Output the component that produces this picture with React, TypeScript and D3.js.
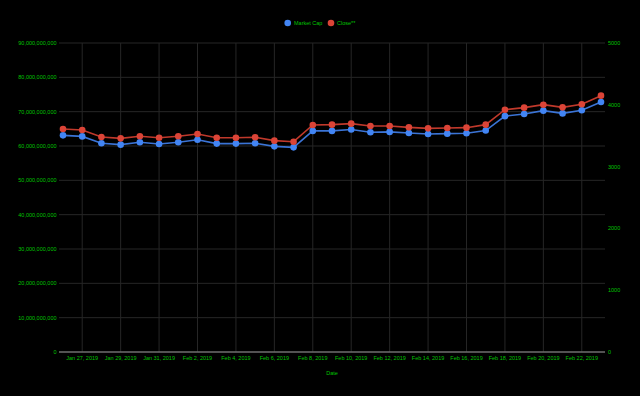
import * as d3 from "d3";

const dates = [
  "2019-01-26", "2019-01-27", "2019-01-28", "2019-01-29", "2019-01-30", "2019-01-31",
  "2019-02-01", "2019-02-02", "2019-02-03", "2019-02-04", "2019-02-05", "2019-02-06",
  "2019-02-07", "2019-02-08", "2019-02-09", "2019-02-10", "2019-02-11", "2019-02-12",
  "2019-02-13", "2019-02-14", "2019-02-15", "2019-02-16", "2019-02-17", "2019-02-18",
  "2019-02-19", "2019-02-20", "2019-02-21", "2019-02-22", "2019-02-23",
];

// market cap in billions
const marketCap = [
  63.1, 62.8, 60.8, 60.4, 61.1, 60.6, 61.1, 61.8, 60.7, 60.7, 60.8, 59.9, 59.6, 64.4,
  64.4, 64.8, 64.0, 64.1, 63.8, 63.5, 63.6, 63.7, 64.5, 68.7, 69.3, 70.3, 69.5, 70.4, 72.8,
];

const close = [
  3608, 3592, 3479, 3457, 3490, 3468, 3490, 3528, 3468, 3468, 3474, 3420, 3403, 3673,
  3679, 3695, 3657, 3657, 3635, 3619, 3625, 3630, 3679, 3921, 3954, 4002, 3959, 4008, 4148,
];

const leftTicks = [0, 10, 20, 30, 40, 50, 60, 70, 80, 90];
const rightTicks = [0, 1000, 2000, 3000, 4000, 5000];
const xTickDates = [
  "2019-01-27", "2019-01-29", "2019-01-31", "2019-02-02", "2019-02-04", "2019-02-06",
  "2019-02-08", "2019-02-10", "2019-02-12", "2019-02-14", "2019-02-16", "2019-02-18",
  "2019-02-20", "2019-02-22",
];

const W = 640;
const H = 396;
const plot = { left: 59, right: 605, top: 43, bottom: 352 };
const FONT = "Arial, 'Liberation Sans', sans-serif";
const TEXT = "#00c400";
const BLUE = "#4285f4";
const RED = "#db4437";

const parse = d3.timeParse("%Y-%m-%d");
const fmtDate = d3.timeFormat("%b %-d, %Y");

export default function App() {
  const parsed = dates.map((d) => parse(d) as Date);
  const pad = 5 * 3600 * 1000;
  const x = d3
    .scaleTime()
    .domain([new Date(+parsed[0] - pad), new Date(+parsed[parsed.length - 1] + pad)])
    .range([plot.left, plot.right]);
  const yL = d3.scaleLinear().domain([0, 90]).range([plot.bottom, plot.top]);
  const yR = d3.scaleLinear().domain([0, 5000]).range([plot.bottom, plot.top]);

  const capLine = d3
    .line<number>()
    .x((_, i) => x(parsed[i]))
    .y((v) => yL(v));
  const closeLine = d3
    .line<number>()
    .x((_, i) => x(parsed[i]))
    .y((v) => yR(v));

  const tickDates = xTickDates.map((d) => parse(d) as Date);

  return (
    <div style={{ position: "fixed", left: 0, top: 0, width: W, height: H, background: "#000" }}>
      <svg width={W} height={H} style={{ display: "block" }} fontFamily={FONT}>
        <rect width={W} height={H} fill="#000" />

        {/* horizontal grid */}
        {leftTicks.slice(1).map((t) => (
          <line key={"h" + t} x1={plot.left} x2={plot.right} y1={yL(t)} y2={yL(t)} stroke="#262626" strokeWidth={1} />
        ))}
        {/* vertical grid */}
        {tickDates.map((d, i) => (
          <line key={"v" + i} x1={x(d)} x2={x(d)} y1={plot.top} y2={plot.bottom} stroke="#262626" strokeWidth={1} />
        ))}
        {/* baseline */}
        <line x1={plot.left} x2={plot.right} y1={plot.bottom} y2={plot.bottom} stroke="#6e6e6e" strokeWidth={1.5} />

        {/* left axis labels */}
        {leftTicks.map((t) => (
          <text key={"l" + t} x={56.5} y={yL(t)} dy="0.35em" textAnchor="end" fontSize={5.5} fill={TEXT}>
            {d3.format(",")(t * 1e9)}
          </text>
        ))}
        {/* right axis labels */}
        {rightTicks.map((t) => (
          <text key={"r" + t} x={608} y={yR(t)} dy="0.35em" textAnchor="start" fontSize={5.5} fill={TEXT}>
            {t}
          </text>
        ))}
        {/* x labels */}
        {tickDates.map((d, i) => (
          <text key={"x" + i} x={x(d)} y={360} textAnchor="middle" fontSize={5.5} fill={TEXT}>
            {fmtDate(d)}
          </text>
        ))}
        <text x={(plot.left + plot.right) / 2} y={375} textAnchor="middle" fontSize={5.5} fill={TEXT}>
          Date
        </text>

        {/* series */}
        <path d={capLine(marketCap) ?? ""} fill="none" stroke="#3b74d6" strokeWidth={1.6} />
        <path d={closeLine(close) ?? ""} fill="none" stroke="#c0392b" strokeWidth={1.6} />
        {marketCap.map((v, i) => (
          <circle key={"c" + i} cx={x(parsed[i])} cy={yL(v)} r={3.3} fill={BLUE} />
        ))}
        {close.map((v, i) => (
          <circle key={"p" + i} cx={x(parsed[i])} cy={yR(v)} r={3.3} fill={RED} />
        ))}

        {/* legend */}
        <circle cx={287.7} cy={23} r={3.3} fill={BLUE} />
        <text x={294} y={23} dy="0.35em" fontSize={5.5} fill={TEXT}>Market Cap</text>
        <circle cx={331} cy={23} r={3.3} fill={RED} />
        <text x={337} y={23} dy="0.35em" fontSize={5.5} fill={TEXT}>Close**</text>
      </svg>
    </div>
  );
}
